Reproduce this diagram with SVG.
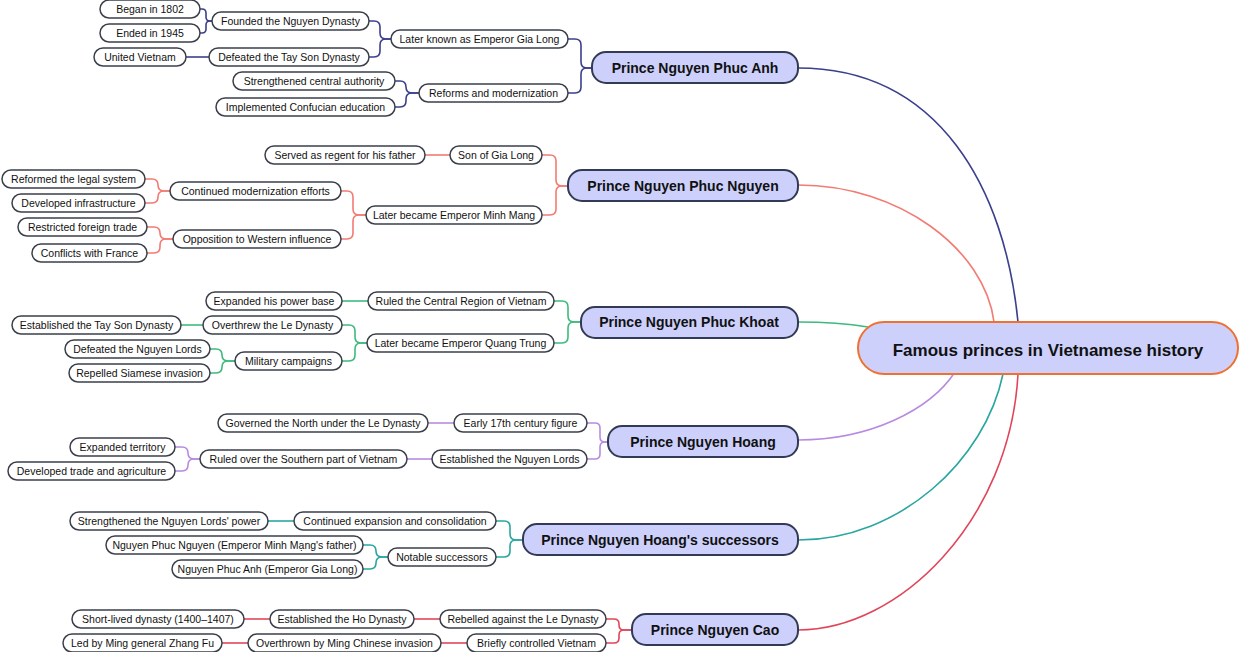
<svg xmlns="http://www.w3.org/2000/svg" width="1240" height="652" viewBox="0 0 1240 652">
<style>
.c{fill:none;stroke-width:1.6}
.n rect{fill:#fff;stroke:#3a3f4a;stroke-width:1.5}
.n text{font-family:"Liberation Sans",Arial,sans-serif;font-size:10.5px;fill:#111;text-anchor:middle}
.p rect{fill:#ccd0fb;stroke:#333a55;stroke-width:2}
.p text{font-family:"Liberation Sans",Arial,sans-serif;font-size:14px;font-weight:bold;fill:#111;text-anchor:middle}
.a{stroke:#3b3f8c}.b{stroke:#f27b74}.g{stroke:#3dba7d}.h{stroke:#b88be0}.t{stroke:#2aa6a0}.r{stroke:#e0465a}
</style>
<g id="connectors">
<path class="c a" d="M798 68 C 940 68 1005 190 1018 322"/>
<path class="c b" d="M798 185 C 900 185 985 250 994 322"/>
<path class="c g" d="M798 322 C 830 322 850 324 868 327"/>
<path class="c h" d="M798 440 C 870 440 930 410 955 372"/>
<path class="c t" d="M798 540 C 900 540 985 460 1003 374"/>
<path class="c r" d="M798 630 C 900 630 1010 520 1018 374"/>
<path class="c a" d="M568 39 H575 Q581 39 581 45 V62 Q581 68 587 68 H592"/>
<path class="c a" d="M568 93 H575 Q581 93 581 87 V74 Q581 68 587 68 H592"/>
<path class="c a" d="M369 21 H374 Q380 21 380 27 V33 Q380 39 386 39 H391"/>
<path class="c a" d="M369 57 H374 Q380 57 380 51 V45 Q380 39 386 39 H391"/>
<path class="c a" d="M200 9 H202 Q206 9 206 13 V17 Q206 21 210 21 H212"/>
<path class="c a" d="M200 33 H202 Q206 33 206 29 V25 Q206 21 210 21 H212"/>
<path class="c a" d="M186 57 H209"/>
<path class="c a" d="M395 81 H400 Q406 81 406 87 Q406 93 412 93 H419"/>
<path class="c a" d="M395 107 H400 Q406 107 406 101 V99 Q406 93 412 93 H419"/>
<path class="c b" d="M542 155 H550 Q556 155 556 161 V180 Q556 186 562 186 H568"/>
<path class="c b" d="M542 215 H550 Q556 215 556 209 V192 Q556 186 562 186 H568"/>
<path class="c b" d="M425 155 H450"/>
<path class="c b" d="M341 191 H347 Q353 191 353 197 V209 Q353 215 359 215 H366"/>
<path class="c b" d="M341 239 H347 Q353 239 353 233 V221 Q353 215 359 215 H366"/>
<path class="c b" d="M145 179 H152 Q158 179 158 185 Q158 191 164 191 H170"/>
<path class="c b" d="M145 203 H152 Q158 203 158 197 Q158 191 164 191 H170"/>
<path class="c b" d="M147 227 H154 Q160 227 160 233 Q160 239 166 239 H173"/>
<path class="c b" d="M147 253 H154 Q160 253 160 247 V245 Q160 239 166 239 H173"/>
<path class="c g" d="M554 301 H562 Q568 301 568 307 V316 Q568 322 574 322 H581"/>
<path class="c g" d="M554 343 H562 Q568 343 568 337 V328 Q568 322 574 322 H581"/>
<path class="c g" d="M342 301 H368"/>
<path class="c g" d="M342 325 H349 Q355 325 355 331 V337 Q355 343 361 343 H367"/>
<path class="c g" d="M342 361 H349 Q355 361 355 355 V349 Q355 343 361 343 H367"/>
<path class="c g" d="M181 325 H203"/>
<path class="c g" d="M210 349 H216 Q222 349 222 355 Q222 361 228 361 H235"/>
<path class="c g" d="M210 373 H216 Q222 373 222 367 Q222 361 228 361 H235"/>
<path class="c h" d="M587 423 H595 Q600 423 600 428 V437 Q600 442 605 442 H608"/>
<path class="c h" d="M587 459 H595 Q600 459 600 454 V447 Q600 442 605 442 H608"/>
<path class="c h" d="M428 423 H454"/>
<path class="c h" d="M407 459 H432"/>
<path class="c h" d="M175 447 H182 Q188 447 188 453 Q188 459 194 459 H200"/>
<path class="c h" d="M175 471 H182 Q188 471 188 465 Q188 459 194 459 H200"/>
<path class="c t" d="M496 521 H504 Q510 521 510 527 V534 Q510 540 516 540 H523"/>
<path class="c t" d="M496 557 H504 Q510 557 510 551 V546 Q510 540 516 540 H523"/>
<path class="c t" d="M268 521 H294"/>
<path class="c t" d="M363 545 H370 Q376 545 376 551 Q376 557 382 557 H388"/>
<path class="c t" d="M363 569 H370 Q376 569 376 563 Q376 557 382 557 H388"/>
<path class="c r" d="M606 619 H614 Q619 619 619 624 V625 Q619 630 624 630 H632"/>
<path class="c r" d="M606 643 H614 Q619 643 619 638 V635 Q619 630 624 630 H632"/>
<path class="c r" d="M414 619 H440"/>
<path class="c r" d="M244 619 H270"/>
<path class="c r" d="M441 643 H467"/>
<path class="c r" d="M222 643 H248"/>
</g>
<g id="root"><rect x="858" y="322" width="380" height="52" rx="26" fill="#ccd0fb" stroke="#f07030" stroke-width="2"/><text x="1048" y="356" font-family="Liberation Sans,Arial,sans-serif" font-size="17" font-weight="bold" text-anchor="middle" fill="#111">Famous princes in Vietnamese history</text></g>
<g id="p1" class="p"><rect x="592" y="52" width="206" height="31" rx="14"/><text x="695" y="73">Prince Nguyen Phuc Anh</text></g>
<g id="p2" class="p"><rect x="568" y="170" width="230" height="31" rx="14"/><text x="683" y="191">Prince Nguyen Phuc Nguyen</text></g>
<g id="p3" class="p"><rect x="581" y="307" width="217" height="31" rx="14"/><text x="689" y="327">Prince Nguyen Phuc Khoat</text></g>
<g id="p4" class="p"><rect x="608" y="426" width="190" height="31" rx="14"/><text x="703" y="447">Prince Nguyen Hoang</text></g>
<g id="p5" class="p"><rect x="523" y="524" width="275" height="31" rx="14"/><text x="660" y="545">Prince Nguyen Hoang's successors</text></g>
<g id="p6" class="p"><rect x="632" y="614" width="166" height="31" rx="14"/><text x="715" y="635">Prince Nguyen Cao</text></g>
<g id="n1" class="n"><rect x="391" y="30" width="177" height="18" rx="9"/><text x="479.5" y="42.5">Later known as Emperor Gia Long</text></g>
<g id="n2" class="n"><rect x="419" y="84" width="149" height="18" rx="9"/><text x="493.5" y="96.5">Reforms and modernization</text></g>
<g id="n3" class="n"><rect x="212" y="12" width="157" height="18" rx="9"/><text x="290.5" y="24.5">Founded the Nguyen Dynasty</text></g>
<g id="n4" class="n"><rect x="209" y="48" width="160" height="18" rx="9"/><text x="289" y="60.5">Defeated the Tay Son Dynasty</text></g>
<g id="n5" class="n"><rect x="100" y="0" width="100" height="18" rx="9"/><text x="150" y="12.5">Began in 1802</text></g>
<g id="n6" class="n"><rect x="100" y="24" width="100" height="18" rx="9"/><text x="150" y="36.5">Ended in 1945</text></g>
<g id="n7" class="n"><rect x="94" y="48" width="92" height="18" rx="9"/><text x="140" y="60.5">United Vietnam</text></g>
<g id="n8" class="n"><rect x="233" y="72" width="162" height="18" rx="9"/><text x="314" y="84.5">Strengthened central authority</text></g>
<g id="n9" class="n"><rect x="216" y="98" width="179" height="18" rx="9"/><text x="305.5" y="110.5">Implemented Confucian education</text></g>
<g id="n10" class="n"><rect x="450" y="146" width="92" height="18" rx="9"/><text x="496" y="158.5">Son of Gia Long</text></g>
<g id="n11" class="n"><rect x="366" y="206" width="176" height="18" rx="9"/><text x="454" y="218.5">Later became Emperor Minh Mang</text></g>
<g id="n12" class="n"><rect x="265" y="146" width="160" height="18" rx="9"/><text x="345" y="158.5">Served as regent for his father</text></g>
<g id="n13" class="n"><rect x="170" y="182" width="171" height="18" rx="9"/><text x="255.5" y="194.5">Continued modernization efforts</text></g>
<g id="n14" class="n"><rect x="173" y="230" width="168" height="18" rx="9"/><text x="257" y="242.5">Opposition to Western influence</text></g>
<g id="n15" class="n"><rect x="2" y="170" width="143" height="18" rx="9"/><text x="73.5" y="182.5">Reformed the legal system</text></g>
<g id="n16" class="n"><rect x="12" y="194" width="133" height="18" rx="9"/><text x="78.5" y="206.5">Developed infrastructure</text></g>
<g id="n17" class="n"><rect x="18" y="218" width="129" height="18" rx="9"/><text x="82.5" y="230.5">Restricted foreign trade</text></g>
<g id="n18" class="n"><rect x="32" y="244" width="115" height="18" rx="9"/><text x="89.5" y="256.5">Conflicts with France</text></g>
<g id="n19" class="n"><rect x="368" y="292" width="186" height="18" rx="9"/><text x="461" y="304.5">Ruled the Central Region of Vietnam</text></g>
<g id="n20" class="n"><rect x="367" y="334" width="187" height="18" rx="9"/><text x="460.5" y="346.5">Later became Emperor Quang Trung</text></g>
<g id="n21" class="n"><rect x="206" y="292" width="136" height="18" rx="9"/><text x="274" y="304.5">Expanded his power base</text></g>
<g id="n22" class="n"><rect x="203" y="316" width="139" height="18" rx="9"/><text x="272.5" y="328.5">Overthrew the Le Dynasty</text></g>
<g id="n23" class="n"><rect x="235" y="352" width="107" height="18" rx="9"/><text x="288.5" y="364.5">Military campaigns</text></g>
<g id="n24" class="n"><rect x="12" y="316" width="169" height="18" rx="9"/><text x="96.5" y="328.5">Established the Tay Son Dynasty</text></g>
<g id="n25" class="n"><rect x="65" y="340" width="145" height="18" rx="9"/><text x="137.5" y="352.5">Defeated the Nguyen Lords</text></g>
<g id="n26" class="n"><rect x="69" y="364" width="141" height="18" rx="9"/><text x="139.5" y="376.5">Repelled Siamese invasion</text></g>
<g id="n27" class="n"><rect x="454" y="414" width="133" height="18" rx="9"/><text x="520.5" y="426.5">Early 17th century figure</text></g>
<g id="n28" class="n"><rect x="432" y="450" width="155" height="18" rx="9"/><text x="509.5" y="462.5">Established the Nguyen Lords</text></g>
<g id="n29" class="n"><rect x="218" y="414" width="210" height="18" rx="9"/><text x="323" y="426.5">Governed the North under the Le Dynasty</text></g>
<g id="n30" class="n"><rect x="200" y="450" width="207" height="18" rx="9"/><text x="303.5" y="462.5">Ruled over the Southern part of Vietnam</text></g>
<g id="n31" class="n"><rect x="70" y="438" width="105" height="18" rx="9"/><text x="122.5" y="450.5">Expanded territory</text></g>
<g id="n32" class="n"><rect x="8" y="462" width="167" height="18" rx="9"/><text x="91.5" y="474.5">Developed trade and agriculture</text></g>
<g id="n33" class="n"><rect x="294" y="512" width="202" height="18" rx="9"/><text x="395" y="524.5">Continued expansion and consolidation</text></g>
<g id="n34" class="n"><rect x="388" y="548" width="108" height="18" rx="9"/><text x="442" y="560.5">Notable successors</text></g>
<g id="n35" class="n"><rect x="70" y="512" width="198" height="18" rx="9"/><text x="169" y="524.5">Strengthened the Nguyen Lords' power</text></g>
<g id="n36" class="n"><rect x="106" y="536" width="257" height="18" rx="9"/><text x="234.5" y="548.5">Nguyen Phuc Nguyen (Emperor Minh Mạng's father)</text></g>
<g id="n37" class="n"><rect x="172" y="560" width="191" height="18" rx="9"/><text x="267.5" y="572.5">Nguyen Phuc Anh (Emperor Gia Long)</text></g>
<g id="n38" class="n"><rect x="440" y="610" width="166" height="18" rx="9"/><text x="523" y="622.5">Rebelled against the Le Dynasty</text></g>
<g id="n39" class="n"><rect x="467" y="634" width="139" height="18" rx="9"/><text x="536.5" y="646.5">Briefly controlled Vietnam</text></g>
<g id="n40" class="n"><rect x="270" y="610" width="144" height="18" rx="9"/><text x="342" y="622.5">Established the Ho Dynasty</text></g>
<g id="n41" class="n"><rect x="72" y="610" width="172" height="18" rx="9"/><text x="158" y="622.5">Short-lived dynasty (1400–1407)</text></g>
<g id="n42" class="n"><rect x="248" y="634" width="193" height="18" rx="9"/><text x="344.5" y="646.5">Overthrown by Ming Chinese invasion</text></g>
<g id="n43" class="n"><rect x="63" y="634" width="159" height="18" rx="9"/><text x="142.5" y="646.5">Led by Ming general Zhang Fu</text></g>
</svg>
